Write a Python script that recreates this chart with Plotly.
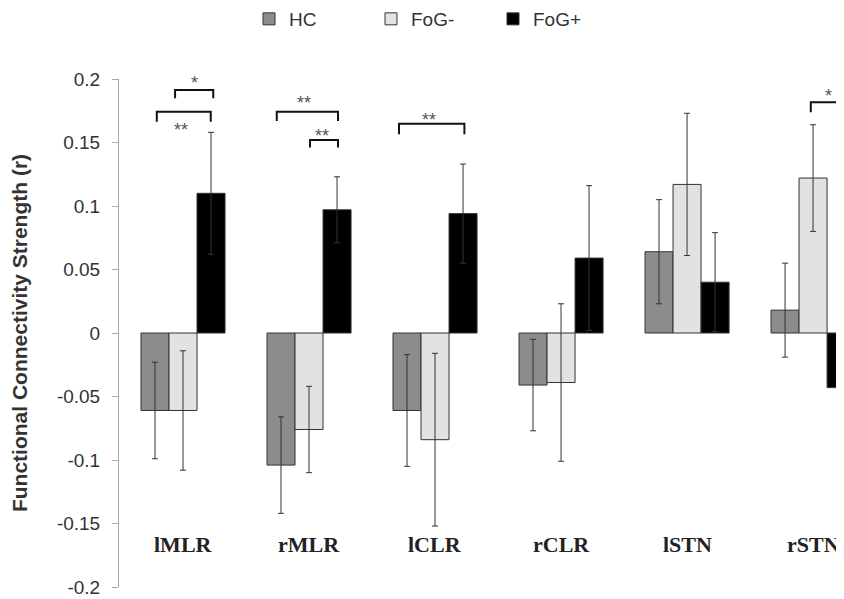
import plotly.graph_objects as go

categories = ["lMLR", "rMLR", "lCLR", "rCLR", "lSTN", "rSTN"]
groups = ["HC", "FoG-", "FoG+"]

hc_mean = [-0.061, -0.104, -0.061, -0.041, 0.064, 0.018]
hc_err = [0.038, 0.038, 0.044, 0.036, 0.041, 0.037]
fogm_mean = [-0.061, -0.076, -0.084, -0.039, 0.117, 0.122]
fogm_err = [0.047, 0.034, 0.068, 0.062, 0.056, 0.042]
fogp_mean = [0.110, 0.097, 0.094, 0.059, 0.040, -0.043]
fogp_err = [0.048, 0.026, 0.039, 0.057, 0.039, 0.064]

colors = ["#8c8c8c", "#e2e2e2", "#000000"]

y_ticks = [-0.2, -0.15, -0.1, -0.05, 0, 0.05, 0.1, 0.15, 0.2]
y_tick_labels = ["-0.2", "-0.15", "-0.1", "-0.05", "0", "0.05", "0.1", "0.15", "0.2"]

# significance brackets: category, left offset, right offset, top, leg bottom, label, label dx, label y
sig_cat = ["lMLR", "lMLR", "rMLR", "rMLR", "lCLR", "rSTN"]
sig_x0 = [-0.063, -0.208, -0.256, 0.008, -0.286, -0.018]
sig_x1 = [0.240, 0.220, 0.230, 0.230, 0.233, 1.0]
sig_top = [0.1913, 0.1743, 0.1743, 0.152, 0.1648, 0.1817]
sig_leg = [0.1848, 0.1664, 0.1670, 0.146, 0.1565, 0.1738]
sig_label = ["*", "**", "**", "**", "**", "*"]
sig_tx = [0.095, -0.018, -0.04, 0.10, -0.048, 0.125]
sig_ty = [0.1965, 0.1600, 0.1810, 0.1550, 0.1677, 0.1866]

fig = go.Figure()
for name, mean, err, col in zip(groups, [hc_mean, fogm_mean, fogp_mean],
                                [hc_err, fogm_err, fogp_err], colors):
    fig.add_trace(go.Bar(
        name=name, x=categories, y=mean,
        marker=dict(color=col, line=dict(color="#333333", width=1)),
        error_y=dict(type="data", array=err, visible=True,
                     color="#333333", thickness=1, width=3),
    ))

for c, x0, x1, yt, yl, lab, tx, ty in zip(sig_cat, sig_x0, sig_x1, sig_top,
                                           sig_leg, sig_label, sig_tx, sig_ty):
    ci = categories.index(c)
    fig.add_shape(type="path", xref="x", yref="y",
                  path=f"M {ci + x0},{yl} L {ci + x0},{yt} L {ci + x1},{yt} L {ci + x1},{yl}",
                  line=dict(color="#111111", width=2))
    fig.add_annotation(x=ci + tx, y=ty, xref="x", yref="y", text=lab,
                       showarrow=False, yanchor="middle",
                       font=dict(family="Liberation Sans", size=18, color="#555555"))

for i, c in enumerate(categories):
    fig.add_annotation(x=i, y=-0.1665, xref="x", yref="y", text=f"<b>{c}</b>",
                       showarrow=False, yanchor="middle",
                       font=dict(family="Liberation Serif", size=22, color="#222222"))

W, H = 844, 599
fig.update_layout(
    width=W, height=H,
    margin=dict(l=111, r=0, t=71, b=20),
    paper_bgcolor="white", plot_bgcolor="white",
    barmode="group", bargap=0.333, bargroupgap=0,
    font=dict(family="Liberation Sans", color="#333333"),
    legend=dict(orientation="h", xref="container", yref="container",
                x=424 / W, xanchor="center", y=1 - 11 / H, yanchor="middle",
                font=dict(size=19, color="#333333"),
                entrywidthmode="pixels", entrywidth=77, itemwidth=30),
    showlegend=True,
)
fig.update_xaxes(range=[-0.508, 5.309], showticklabels=False, showline=False,
                 ticks="", showgrid=False, zeroline=False)
fig.update_yaxes(range=[-0.2, 0.2], tickvals=y_ticks, ticktext=y_tick_labels,
                 showline=True, linecolor="#a8a8a8", linewidth=1,
                 ticks="outside", ticklen=6, tickcolor="#a8a8a8",
                 ticklabelstandoff=8, automargin=False,
                 tickfont=dict(size=19, color="#333333"),
                 showgrid=False, zeroline=False,
                 title=dict(text="<b>Functional Connectivity Strength (r)</b>",
                            font=dict(size=21, color="#333333"), standoff=27))

fig.write_html("out.html")
